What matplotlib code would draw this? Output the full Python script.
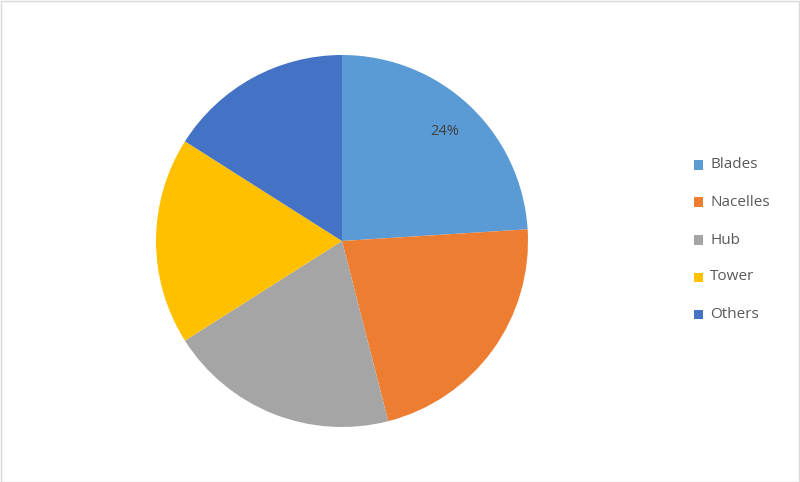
import matplotlib
matplotlib.use("Agg")
import matplotlib.pyplot as plt
from matplotlib.patches import Rectangle
import numpy as np

labels = ["Blades", "Nacelles", "Hub", "Tower", "Others"]
values = [24, 22, 20, 18, 16]
colors = ["#5B9BD5", "#ED7D31", "#A5A5A5", "#FFC000", "#4472C4"]
shown_pct = ["24%", "", "", "", ""]

plt.rcParams['font.family'] = ['Open Sans', 'DejaVu Sans']

W, H = 800, 482
fig = plt.figure(figsize=(W / 100, H / 100), dpi=100)
fig.patch.set_facecolor("white")

cx, cy, r = 342, 241, 186
ax = fig.add_axes([(cx - r) / W, (H - cy - r) / H, 2 * r / W, 2 * r / H])
wedges, texts = ax.pie(values, colors=colors, startangle=90, counterclock=False,
                       radius=1, wedgeprops=dict(linewidth=0))
ax.set_xlim(-1, 1)
ax.set_ylim(-1, 1)
ax.set_aspect("equal")
ax.axis("off")

# percentage label
total = sum(values)
start = 90.0
for v, t in zip(values, shown_pct):
    ang = start - 360 * v / total / 2
    start -= 360 * v / total
    if t:
        a = np.deg2rad(ang)
        ax.text(0.81 * np.cos(a), 0.81 * np.sin(a), t, ha="center", va="center",
                fontsize=10.5, color="#404040")

# legend
ys = [165, 202, 240, 277, 314]
for lab, col, y in zip(labels, colors, ys):
    fig.patches.append(Rectangle(((694) / W, (H - y - 4.5) / H), 9 / W, 9 / H,
                                 transform=fig.transFigure, facecolor=col, edgecolor="none"))
    fig.text(710 / W, (H - y) / H, lab, ha="left", va="center", fontsize=11, color="#595959")

# border
fig.patches.append(Rectangle((0.5 / W, 0.5 / H), (W - 1.5) / W, (H - 1.5) / H,
                             transform=fig.transFigure, facecolor="none",
                             edgecolor="#D9D9D9", linewidth=1))

fig.savefig("out.png", dpi=100)
